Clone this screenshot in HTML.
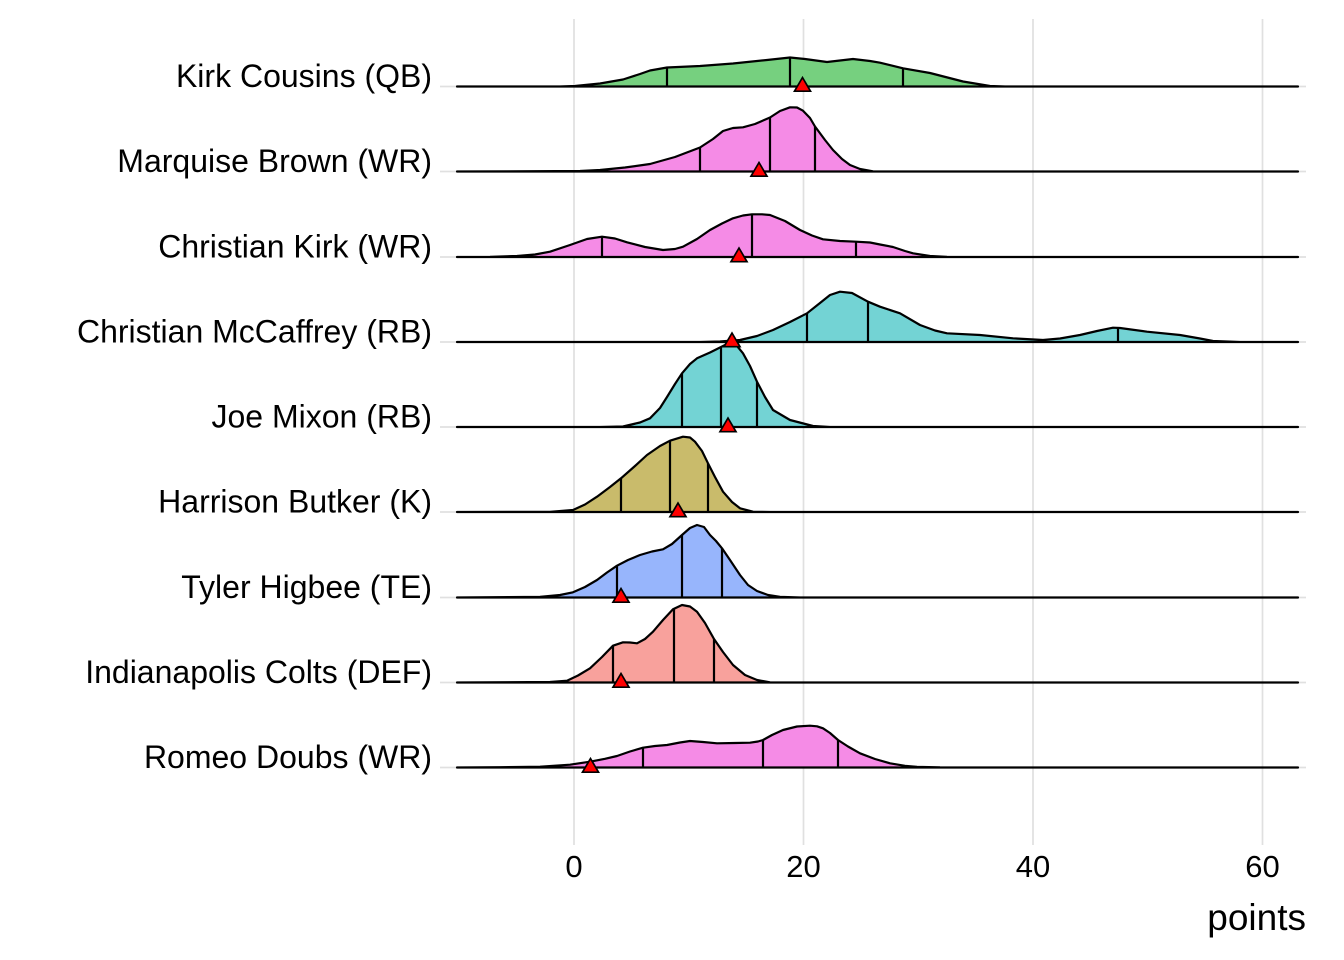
<!DOCTYPE html>
<html>
<head>
<meta charset="utf-8">
<style>
  html, body { margin: 0; padding: 0; background: #ffffff; }
  svg { display: block; }
  text { font-family: "Liberation Sans", Arial, sans-serif; fill: #000; }
</style>
</head>
<body>
<svg width="1344" height="960" viewBox="0 0 1344 960" xmlns="http://www.w3.org/2000/svg">
  <rect width="1344" height="960" fill="#ffffff"/>

  <!-- grid -->
  <g stroke="#e0e0e0" stroke-width="1.7">
    <line x1="574" y1="19" x2="574" y2="845"/>
    <line x1="803.5" y1="19" x2="803.5" y2="845"/>
    <line x1="1033" y1="19" x2="1033" y2="845"/>
    <line x1="1262.5" y1="19" x2="1262.5" y2="845"/>
    <line x1="440" y1="86.5" x2="1306" y2="86.5"/>
    <line x1="440" y1="171.5" x2="1306" y2="171.5"/>
    <line x1="440" y1="257" x2="1306" y2="257"/>
    <line x1="440" y1="342" x2="1306" y2="342"/>
    <line x1="440" y1="427" x2="1306" y2="427"/>
    <line x1="440" y1="512" x2="1306" y2="512"/>
    <line x1="440" y1="597.5" x2="1306" y2="597.5"/>
    <line x1="440" y1="682.5" x2="1306" y2="682.5"/>
    <line x1="440" y1="767.5" x2="1306" y2="767.5"/>
  </g>

  <g stroke="#000" stroke-width="2.2" stroke-linejoin="round" stroke-linecap="butt">
    <!-- Row 1: Kirk Cousins (QB) -->
    <path fill="#76d07f" d="M457,86.5 L560,86.5 575,86 600,83.5 623,79.5 640,74 650,70.5 667,67.5 700,66 733,63.5 767,60 790,57.5 805,59 827,62 840,60.5 853,59 870,61 880,62.7 903,68.3 930,73 963,81.5 990,86 1005,86.5 1298,86.5 Z"/>
    <path fill="none" d="M667,86.5 V67.5 M790,86.5 V57.5 M903,86.5 V68.3"/>

    <!-- Row 2: Marquise Brown (WR) -->
    <path fill="#f58be6" d="M457,171.5 L580,171 600,170 625,167.5 650,164 675,157 700,147.5 713,139 723,131 733,128 743,127.3 755,124 770,117.5 780,111 790,107.3 797,107.5 803,110.7 810,118 815,126.5 825,140 833,150 842,159 850,165 860,169 873,171.3 890,171.5 1298,171.5 Z"/>
    <path fill="none" d="M700,171.5 V147.5 M770,171.5 V117.5 M815,171.5 V126.5"/>

    <!-- Row 3: Christian Kirk (WR) -->
    <path fill="#f58be6" d="M457,257 L490,256.8 517,256 535,254.5 550,251.7 570,245 587,239 602,236.7 615,238.5 627,242.3 645,247 663,250 675,249 683,246.7 697,239 710,230 722,223.5 733,218.3 743,215.5 752,214.3 762,214.3 770,215 785,221 800,230 812,235.5 823,239.3 840,241 856,241.7 870,242.5 880,244.5 893,247 905,251 913,253.3 930,256 947,256.8 960,257 1298,257 Z"/>
    <path fill="none" d="M602,257 V236.7 M752,257 V214.3 M856,257 V241.7"/>

    <!-- Row 4: Christian McCaffrey (RB) -->
    <path fill="#73d3d4" d="M457,342 L700,342 720,341.5 740,340 757,336 773,330 790,322 807,313.3 820,303 830,295 840,291.7 852,293 868,301.7 880,306.7 900,313.3 920,325 935,330.5 947,333.3 980,335 1013,338.3 1043,340 1060,338.5 1080,335 1097,331 1113,327.7 1120,328 1147,331.7 1180,335 1200,338.5 1213,341 1240,342 1298,342 Z"/>
    <path fill="none" d="M807,342 V313.3 M868,342 V301.7 M1118,342 V328"/>

    <!-- Row 5: Joe Mixon (RB) -->
    <path fill="#73d3d4" d="M457,427 L600,427 623,426.5 640,422.5 650,418.3 660,408 667,397 675,384 682,373.3 690,364 697,358.3 710,352.5 721,347 729,343 735,343.5 743,353.3 750,366 757,381.7 765,397 773,410 790,420 813,426 830,427 1298,427 Z"/>
    <path fill="none" d="M682,427 V373.3 M721,427 V347 M757,427 V381.7"/>

    <!-- Row 6: Harrison Butker (K) -->
    <path fill="#c9bb6b" d="M457,512 L550,511.8 573,510 585,504.5 597,496.7 610,487 621,478.3 635,466 647,455 660,446 670,440.7 683,436.7 690,437.5 695,441.7 702,451 708,463.3 715,477 723,491.7 732,502 740,508.3 753,511.7 770,512 1298,512 Z"/>
    <path fill="none" d="M621,512 V478.3 M670,512 V440.7 M708,512 V463.3"/>

    <!-- Row 7: Tyler Higbee (TE) -->
    <path fill="#97b5fc" d="M457,597.5 L540,596.8 560,595 573,592.3 585,587 597,580 607,572.5 617,565.7 628,560 640,555 652,551.5 663,549.3 672,544 682,535 690,528 697,525 704,527 710,535 716,541 722,548.3 730,560 740,575 748,585 757,591 768,595 780,596.8 800,597.5 1298,597.5 Z"/>
    <path fill="none" d="M617,597.5 V565.7 M682,597.5 V535 M722,597.5 V548.3"/>

    <!-- Row 8: Indianapolis Colts (DEF) -->
    <path fill="#f8a19c" d="M457,682.5 L550,682 567,680.7 578,675.5 590,668.3 602,657 613,645.7 623,642.3 630,642.5 637,643.3 645,639 653,631.7 663,620 673,609.3 682,605 690,606.5 697,611.7 705,623 714,639 723,652 733,665 745,675 757,680 770,682.3 790,682.5 1298,682.5 Z"/>
    <path fill="none" d="M613,682.5 V645.7 M674,682.5 V608.5 M714,682.5 V639"/>

    <!-- Row 9: Romeo Doubs (WR) -->
    <path fill="#f58be6" d="M457,767.5 L500,767.2 540,766.7 570,764.7 590,761.7 605,758.8 617,756 630,751.5 643,747.7 655,746 667,745 680,742.5 690,741 703,742 717,743.3 735,743 750,742.7 758,741.5 763,740 772,735 783,730 797,726.5 810,725.7 817,726.3 823,728.3 830,733 838,740 848,746.5 860,753.3 875,759 890,763.3 905,765.8 917,766.8 940,767.4 1298,767.5 Z"/>
    <path fill="none" d="M643,767.5 V747.7 M763,767.5 V740 M838,767.5 V740"/>
  </g>

  <!-- red triangles -->
  <g fill="#ff0000" stroke="#000" stroke-width="1.7" stroke-linejoin="miter">
    <polygon points="794.5,91.2 810.5,91.2 802.5,77.5"/>
    <polygon points="751,176.2 767,176.2 759,162.5"/>
    <polygon points="731,261.7 747,261.7 739,248"/>
    <polygon points="724,346.7 740,346.7 732,333"/>
    <polygon points="720,431.7 736,431.7 728,418"/>
    <polygon points="670,516.7 686,516.7 678,503"/>
    <polygon points="613,602.2 629,602.2 621,588.5"/>
    <polygon points="613,687.2 629,687.2 621,673.5"/>
    <polygon points="582.5,772.2 598.5,772.2 590.5,758.5"/>
  </g>

  <!-- y axis labels -->
  <g font-size="32" text-anchor="end">
    <text x="432" y="87">Kirk Cousins (QB)</text>
    <text x="432" y="172">Marquise Brown (WR)</text>
    <text x="432" y="257.5">Christian Kirk (WR)</text>
    <text x="432" y="342.5">Christian McCaffrey (RB)</text>
    <text x="432" y="427.5">Joe Mixon (RB)</text>
    <text x="432" y="512.5">Harrison Butker (K)</text>
    <text x="432" y="598">Tyler Higbee (TE)</text>
    <text x="432" y="683">Indianapolis Colts (DEF)</text>
    <text x="432" y="768">Romeo Doubs (WR)</text>
  </g>

  <!-- x axis tick labels -->
  <g font-size="31" text-anchor="middle">
    <text x="574" y="877">0</text>
    <text x="803.5" y="877">20</text>
    <text x="1033" y="877">40</text>
    <text x="1262.5" y="877">60</text>
  </g>

  <!-- x axis title -->
  <text x="1306" y="930" font-size="37" text-anchor="end">points</text>
</svg>
</body>
</html>
